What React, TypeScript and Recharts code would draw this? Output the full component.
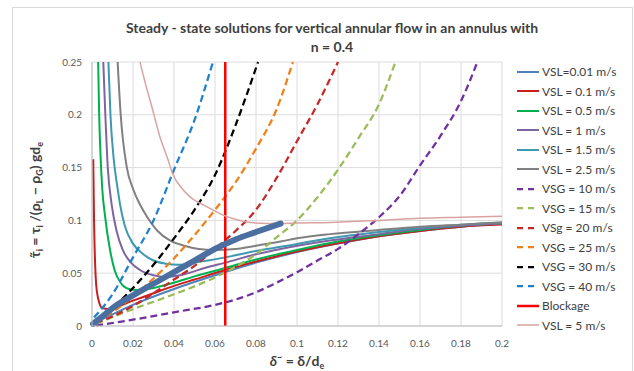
import React from "react";
import { LineChart, Line, XAxis, YAxis, CartesianGrid } from "recharts";

const FONT = "Lato, 'Open Sans', sans-serif";

type Pair = [number, number];

const xTicks = [0, 0.02, 0.04, 0.06, 0.08, 0.1, 0.12, 0.14, 0.16, 0.18, 0.2];
const yTicks = [0, 0.05, 0.1, 0.15, 0.2, 0.25];

// liquid superficial velocity curves (solid)
const vsl001: Pair[] = [
  [0.001, 0.003], [0.01, 0.011], [0.02, 0.02], [0.04, 0.035], [0.06, 0.048],
  [0.08, 0.06], [0.1, 0.07], [0.12, 0.078], [0.14, 0.085], [0.16, 0.09],
  [0.18, 0.094], [0.2, 0.097],
];
const vsl01: Pair[] = [
  [0.0006, 0.158], [0.001, 0.1], [0.0015, 0.06], [0.002, 0.04], [0.003, 0.026],
  [0.005, 0.017], [0.008, 0.016], [0.01, 0.017], [0.02, 0.024], [0.03, 0.031],
  [0.04, 0.038], [0.05, 0.044], [0.065, 0.053], [0.08, 0.061], [0.092, 0.067],
  [0.116, 0.077], [0.14, 0.085], [0.16, 0.09], [0.18, 0.094], [0.2, 0.096],
];
const vsl05: Pair[] = [
  [0.003, 0.25], [0.0035, 0.2], [0.0042, 0.16], [0.005, 0.13], [0.0063, 0.105],
  [0.0088, 0.072], [0.011, 0.053], [0.014, 0.041], [0.018, 0.035], [0.022, 0.034],
  [0.03, 0.036], [0.04, 0.041], [0.05, 0.047], [0.065, 0.055], [0.08, 0.063],
  [0.1, 0.072], [0.12, 0.08], [0.14, 0.086], [0.16, 0.091], [0.18, 0.095], [0.2, 0.097],
];
const vsl1: Pair[] = [
  [0.0055, 0.25], [0.0065, 0.2], [0.0077, 0.15], [0.0096, 0.115], [0.012, 0.09],
  [0.015, 0.072], [0.019, 0.06], [0.0234, 0.053], [0.03, 0.048], [0.036, 0.0465],
  [0.045, 0.049], [0.055, 0.055], [0.065, 0.06], [0.08, 0.068], [0.092, 0.073],
  [0.116, 0.081], [0.14, 0.087], [0.16, 0.092], [0.18, 0.095], [0.2, 0.097],
];
const vsl15: Pair[] = [
  [0.008, 0.25], [0.009, 0.2], [0.0105, 0.16], [0.0125, 0.13], [0.0137, 0.115],
  [0.016, 0.095], [0.02, 0.078], [0.025, 0.068], [0.03, 0.062], [0.036, 0.059],
  [0.042, 0.058], [0.05, 0.06], [0.065, 0.065], [0.08, 0.071], [0.092, 0.075],
  [0.116, 0.083], [0.14, 0.089], [0.16, 0.093], [0.18, 0.096], [0.2, 0.098],
];
const vsl25: Pair[] = [
  [0.0125, 0.25], [0.014, 0.2], [0.017, 0.15], [0.02, 0.13], [0.0234, 0.115],
  [0.027, 0.103], [0.032, 0.09], [0.038, 0.081], [0.045, 0.076], [0.052, 0.073],
  [0.06, 0.072], [0.07, 0.073], [0.08, 0.076], [0.092, 0.08], [0.1, 0.083],
  [0.116, 0.087], [0.14, 0.091], [0.16, 0.094], [0.18, 0.096], [0.2, 0.098],
];
const vsl5: Pair[] = [
  [0.0234, 0.25], [0.026, 0.23], [0.029, 0.209], [0.033, 0.18], [0.037, 0.158],
  [0.0396, 0.143], [0.044, 0.13], [0.048, 0.122], [0.056, 0.113], [0.064, 0.105],
  [0.072, 0.1], [0.08, 0.0975], [0.09, 0.097], [0.1, 0.0975], [0.116, 0.098],
  [0.14, 0.1], [0.16, 0.102], [0.18, 0.103], [0.2, 0.104],
];

// gas superficial velocity curves (dashed)
const vsg10: Pair[] = [
  [0.002, 0.0005], [0.02, 0.006], [0.04, 0.013], [0.06, 0.02], [0.07, 0.025],
  [0.08, 0.032], [0.09, 0.041], [0.1, 0.051], [0.11, 0.062], [0.12, 0.073],
  [0.13, 0.087], [0.14, 0.103], [0.15, 0.123], [0.16, 0.152], [0.17, 0.18],
  [0.18, 0.213], [0.188, 0.25],
];
const vsg15: Pair[] = [
  [0.002, 0.002], [0.02, 0.016], [0.04, 0.03], [0.06, 0.046], [0.07, 0.056],
  [0.08, 0.068], [0.09, 0.084], [0.1, 0.1], [0.11, 0.122], [0.12, 0.148],
  [0.13, 0.178], [0.14, 0.21], [0.148, 0.25],
];
const vsg20: Pair[] = [
  [0.002, 0.003], [0.01, 0.009], [0.02, 0.019], [0.03, 0.031], [0.04, 0.044],
  [0.05, 0.057], [0.06, 0.073], [0.07, 0.09], [0.08, 0.11], [0.09, 0.14],
  [0.1, 0.175], [0.11, 0.21], [0.12, 0.25],
];
const vsg25: Pair[] = [
  [0.002, 0.005], [0.01, 0.013], [0.02, 0.028], [0.03, 0.045], [0.04, 0.064],
  [0.05, 0.086], [0.06, 0.11], [0.07, 0.136], [0.08, 0.168], [0.09, 0.205], [0.098, 0.25],
];
const vsg30: Pair[] = [
  [0.002, 0.006], [0.01, 0.017], [0.02, 0.036], [0.03, 0.058], [0.04, 0.083],
  [0.05, 0.11], [0.06, 0.143], [0.07, 0.19], [0.081, 0.25],
];
const vsg40: Pair[] = [
  [0.001, 0.008], [0.01, 0.03], [0.02, 0.065], [0.03, 0.1], [0.04, 0.148],
  [0.05, 0.195], [0.059, 0.25],
];

const blockage: Pair[] = [[0.065, 0], [0.065, 0.25]];

// locus through the minima
const minima: Pair[] = [
  [0.0005, 0.002], [0.005, 0.009], [0.01, 0.017], [0.02, 0.029], [0.03, 0.04],
  [0.04, 0.051], [0.05, 0.062], [0.06, 0.073], [0.07, 0.082], [0.08, 0.089], [0.092, 0.097],
];

const toPts = (a: Pair[]) => a.map(([x, y]) => ({ x, y }));

interface Series {
  name: string;
  data: Pair[];
  color: string;
  width: number;
  dashed?: boolean;
  linear?: boolean;
}

const series: Series[] = [
  { name: "VSL=0.01 m/s", data: vsl001, color: "#4F81BD", width: 2 },
  { name: "VSL = 0.1 m/s", data: vsl01, color: "#C81E1E", width: 2 },
  { name: "VSL = 0.5 m/s", data: vsl05, color: "#00B050", width: 2 },
  { name: "VSL = 1 m/s", data: vsl1, color: "#8064A2", width: 2 },
  { name: "VSL = 1.5 m/s", data: vsl15, color: "#3E98B0", width: 2 },
  { name: "VSL = 2.5 m/s", data: vsl25, color: "#808080", width: 2 },
  { name: "VSG = 10 m/s", data: vsg10, color: "#7030A0", width: 2.25, dashed: true },
  { name: "VSG = 15 m/s", data: vsg15, color: "#9BBB59", width: 2.25, dashed: true },
  { name: "VSg = 20 m/s", data: vsg20, color: "#C62828", width: 2.25, dashed: true },
  { name: "VSG = 25 m/s", data: vsg25, color: "#F07F18", width: 2.25, dashed: true },
  { name: "VSG = 30 m/s", data: vsg30, color: "#000000", width: 2.25, dashed: true },
  { name: "VSG = 40 m/s", data: vsg40, color: "#2080D0", width: 2.25, dashed: true },
  { name: "Blockage", data: blockage, color: "#FF0000", width: 2.5, linear: true },
  { name: "VSL = 5 m/s", data: vsl5, color: "#D9A3A1", width: 1.5 },
];

const DASH = "7 4";

const YTitle = () => (
  <text
    transform="translate(40,200) rotate(-90)"
    textAnchor="middle"
    fontFamily={FONT}
    fontWeight="bold"
    fontSize={14}
    fill="#404040"
  >
    <tspan>τ̃</tspan>
    <tspan fontSize={9} dy={3}>i</tspan>
    <tspan dy={-3}> = τ</tspan>
    <tspan fontSize={9} dy={3}>i</tspan>
    <tspan dy={-3}> /(ρ</tspan>
    <tspan fontSize={9} dy={3}>L</tspan>
    <tspan dy={-3}> − ρ</tspan>
    <tspan fontSize={9} dy={3}>G</tspan>
    <tspan dy={-3}>) gd</tspan>
    <tspan fontSize={9} dy={3}>e</tspan>
  </text>
);

const XTitle = () => (
  <text
    x={297}
    y={366}
    textAnchor="middle"
    fontFamily={FONT}
    fontWeight="bold"
    fontSize={14}
    fill="#404040"
  >
    <tspan fontStyle="italic">δ</tspan>
    <tspan fontSize={9} dy={-6}>~</tspan>
    <tspan dy={6}> = δ/d</tspan>
    <tspan fontSize={9} dy={3}>e</tspan>
  </text>
);

const tickStyle = { fontSize: 10, fill: "#595959", fontFamily: FONT };

export default function App() {
  return (
    <div
      style={{
        position: "absolute",
        left: 0,
        top: 0,
        width: 634,
        height: 371,
        background: "#fff",
        overflow: "hidden",
        fontFamily: FONT,
      }}
    >
      <div
        style={{
          position: "absolute",
          left: 12,
          top: 7,
          width: 619,
          height: 380,
          border: "1px solid #D9D9D9",
        }}
      />
      <div
        style={{
          position: "absolute",
          left: 0,
          top: 18,
          width: 664,
          textAlign: "center",
          fontWeight: "bold",
          fontSize: 14,
          lineHeight: "19px",
          color: "#404040",
        }}
      >
        Steady - state solutions for vertical annular flow in an annulus with
        <br />n = 0.4
      </div>
      <div style={{ position: "absolute", left: 0, top: 0 }}>
        <LineChart
          width={634}
          height={371}
          margin={{ top: 62, right: 132, bottom: 20, left: 52 }}
        >
          <CartesianGrid stroke="#DCDCDC" />
          <XAxis
            type="number"
            dataKey="x"
            domain={[0, 0.2]}
            ticks={xTicks}
            tickFormatter={(v: number) => String(v)}
            tick={tickStyle}
            tickLine={false}
            axisLine={{ stroke: "#BFBFBF" }}
            height={25}
            tickMargin={8}
          />
          <YAxis
            type="number"
            domain={[0, 0.25]}
            ticks={yTicks}
            tickFormatter={(v: number) => String(v)}
            tick={tickStyle}
            tickLine={false}
            axisLine={{ stroke: "#BFBFBF" }}
            width={40}
            tickMargin={4}
          />
          {series.map((s) => (
            <Line
              key={s.name}
              data={toPts(s.data)}
              dataKey="y"
              name={s.name}
              type={s.linear ? "linear" : "monotone"}
              stroke={s.color}
              strokeWidth={s.width}
              strokeDasharray={s.dashed ? DASH : undefined}
              dot={false}
              activeDot={false}
              isAnimationActive={false}
            />
          ))}
          <Line
            data={toPts(minima)}
            dataKey="y"
            name="minima"
            type="monotone"
            stroke="#4A6FA0"
            strokeWidth={6}
            strokeLinecap="round"
            dot={false}
            activeDot={false}
            legendType="none"
            isAnimationActive={false}
          />
          <YTitle />
          <XTitle />
        </LineChart>
      </div>
      <div style={{ position: "absolute", left: 516, top: 62 }}>
        {series.map((s) => (
          <div
            key={s.name}
            style={{ display: "flex", alignItems: "center", height: 19.5 }}
          >
            <svg width={24} height={6} style={{ marginRight: 2 }}>
              <line
                x1={1}
                y1={3}
                x2={23}
                y2={3}
                stroke={s.color}
                strokeWidth={s.width}
                strokeDasharray={s.dashed ? "6 5" : undefined}
              />
            </svg>
            <span style={{ fontSize: 12, color: "#404040", whiteSpace: "nowrap" }}>
              {s.name}
            </span>
          </div>
        ))}
      </div>
    </div>
  );
}
